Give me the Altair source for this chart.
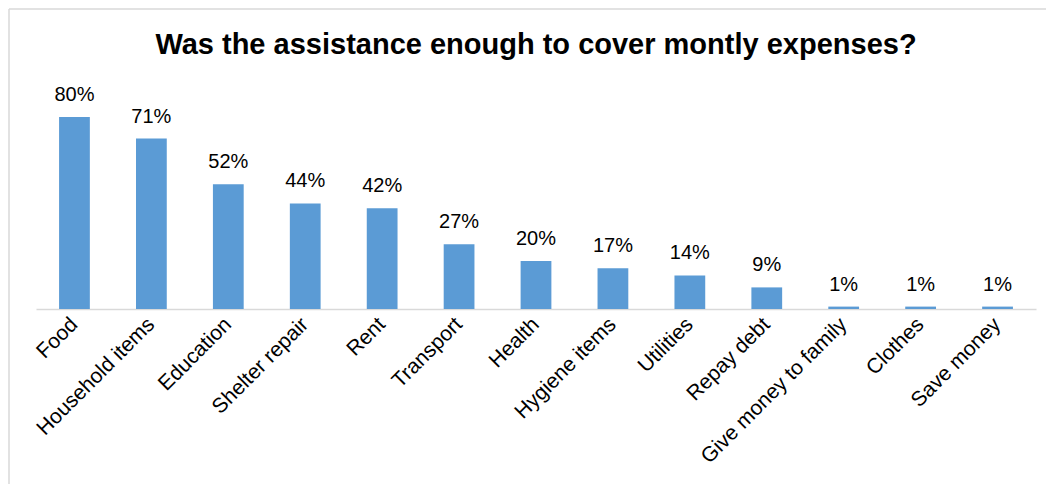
import altair as alt
import pandas as pd

categories = ["Food", "Household items", "Education", "Shelter repair", "Rent", "Transport",
              "Health", "Hygiene items", "Utilities", "Repay debt", "Give money to family",
              "Clothes", "Save money"]
values = [80, 71, 52, 44, 42, 27, 20, 17, 14, 9, 1, 1, 1]
labels = ["80%", "71%", "52%", "44%", "42%", "27%", "20%", "17%", "14%", "9%", "1%", "1%", "1%"]
title_text = "Was the assistance enough to cover montly expenses?"

df = pd.DataFrame({"cat": categories, "val": values, "lab": labels})

W, H = 1000, 240
FONT = "Liberation Sans"

x = alt.X("cat:N", sort=categories, title=None,
          scale=alt.Scale(paddingInner=0.6, paddingOuter=0.3),
          axis=alt.Axis(labelAngle=-45, labelAlign="right", labelBaseline="middle",
                        labelFontSize=21, labelFont=FONT, labelColor="#000000",
                        labelPadding=12, ticks=False, domainColor="#D9D9D9",
                        domainWidth=1.5, labelLimit=400))
y = alt.Y("val:Q", scale=alt.Scale(domain=[0, 100]), axis=None)

one = pd.DataFrame({"t": [title_text]})

top_line = alt.Chart(one).mark_rule(stroke="#D9D9D9", strokeWidth=1.5).encode(
    x=alt.value(-27), x2=alt.value(W + 10), y=alt.value(-60))
left_line = alt.Chart(one).mark_rule(stroke="#D9D9D9", strokeWidth=1.5).encode(
    x=alt.value(-27), y=alt.value(-60), y2=alt.value(H + 175))

title = alt.Chart(one).mark_text(fontSize=29, font=FONT, fontWeight="bold", color="#000000",
                                 baseline="alphabetic", align="center").encode(
    x=alt.value(W / 2), y=alt.value(-15), text="t:N")

bars = alt.Chart(df).mark_bar(color="#5B9BD5").encode(x=x, y=y)
text = alt.Chart(df).mark_text(dy=-16, baseline="alphabetic", fontSize=20, font=FONT,
                               color="#000000").encode(x=x, y=y, text="lab:N")

chart = alt.layer(top_line, left_line, title, bars, text).properties(
    width=W, height=H,
    autosize=alt.AutoSizeParams(type="none"),
    padding={"left": 28, "top": 61, "right": 10, "bottom": 175},
).configure_view(stroke=None)

chart.save("out.html", embed_options={"renderer": "svg", "actions": False})
